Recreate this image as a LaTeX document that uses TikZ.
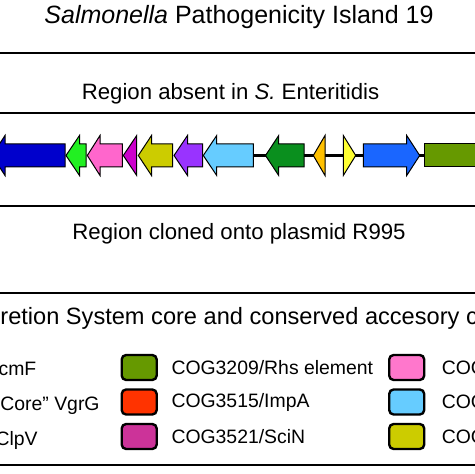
\documentclass[tikz,border=0pt]{standalone}
\usepackage{fontspec}
\setmainfont{Liberation Sans}
\usetikzlibrary{positioning}
\definecolor{genedblue}{HTML}{0000CC}
\definecolor{genelime}{HTML}{22F022}
\definecolor{genepink}{HTML}{FF66CC}
\definecolor{genemag}{HTML}{CC00CC}
\definecolor{geneoy}{HTML}{CCCC00}
\definecolor{genepurple}{HTML}{9933FF}
\definecolor{genelblue}{HTML}{66CCFF}
\definecolor{genedgreen}{HTML}{0A8F1E}
\definecolor{geneorange}{HTML}{FFC000}
\definecolor{geneyellow}{HTML}{FFFF33}
\definecolor{geneblue}{HTML}{1A66FF}
\definecolor{geneolive}{HTML}{669900}
\definecolor{cogred}{HTML}{FF3300}
\definecolor{cogmag}{HTML}{CC3399}
\definecolor{cogpink}{HTML}{FF77CC}

\begin{document}
\begin{tikzpicture}[x=0.5pt,y=0.5pt,
  gene/.style={draw=black, line width=0.5pt, line join=miter},
  sepline/.style={line width=1pt},
  legbox/.style={draw=black, line width=1.2pt, rounded corners=2.2pt, minimum width=17.5pt, minimum height=12.5pt, inner sep=0pt},
  legtext/.style={font=\fontsize{9.7}{11}\selectfont, inner sep=0pt}]
\useasboundingbox (0,0) rectangle (474,474);

% headings
\node[anchor=base, font=\fontsize{12.5}{14}\selectfont] (title) at (239,450.7) {\textit{Salmonella} Pathogenicity Island 19};
\node[anchor=base, font=\fontsize{11.1}{13}\selectfont] (absent) at (230.5,374) {Region absent in \textit{S.} Enteritidis};
\node[anchor=base, font=\fontsize{11.1}{13}\selectfont] (cloned) at (239,234) {Region cloned onto plasmid R995};
\node[anchor=base west, font=\fontsize{11.8}{14}\selectfont, inner sep=0pt] (core) at (0,149) {retion System core and conserved accesory c};

% separators
\foreach \y in {421,361,267.5,181,9} {
\draw[sepline] (-5,\y) -- (479,\y);
}

% gene map
\draw[line width=1.5pt] (250,318.5) -- (430,318.5);
\foreach \tip/\hb/\tl/\col in {-8/5/65/genedblue, 66/79.5/86/genelime, 87.3/100/122.3/genepink,
  123.3/136.7/136.7/genemag, 138.3/151.5/172.7/geneoy, 174/187.5/202.7/genepurple,
  203.3/216.7/253.3/genelblue, 265.5/278.7/304/genedgreen, 313.3/325/325/geneorange,
  355.7/343.3/343.3/geneyellow, 419.7/406.7/363.3/geneblue} {
\draw[gene, fill=\col] (\tip,318.5) -- (\hb,338.5) -- (\hb,330) -- (\tl,330) -- (\tl,307) -- (\hb,307) -- (\hb,298.5) -- cycle;
}
\draw[gene, fill=geneolive] (424,307) rectangle (480,330);

% legend
\node[legtext, anchor=base east] (icmf) at (36.7,98) {cmF};
\node[legtext, anchor=base east] (vgrg) at (100,63) {“Core” VgrG};
\node[legtext, anchor=base east] (clpv) at (38,28) {ClpV};

\node[legbox, fill=geneolive] (rhs) at (139.2,106.5) {};
\node[legtext, right=6.6pt of rhs] (rhslab) {COG3209/Rhs element};
\node[legbox, fill=cogred] (impa) at (139.2,72) {};
\node[legtext, right=6.6pt of impa] (impalab) {COG3515/ImpA};
\node[legbox, fill=cogmag] (scin) at (139.2,37.5) {};
\node[legtext, right=6.6pt of scin] (scinlab) {COG3521/SciN};

\node[legbox, fill=cogpink] (cogp) at (406.7,106.5) {};
\node[legtext, right=8pt of cogp] (cogplab) {COG};
\node[legbox, fill=genelblue] (cogb) at (406.7,72) {};
\node[legtext, right=8pt of cogb] (cogblab) {COG};
\node[legbox, fill=geneoy] (cogy) at (406.7,37.5) {};
\node[legtext, right=8pt of cogy] (cogylab) {COG};
\end{tikzpicture}
\end{document}
